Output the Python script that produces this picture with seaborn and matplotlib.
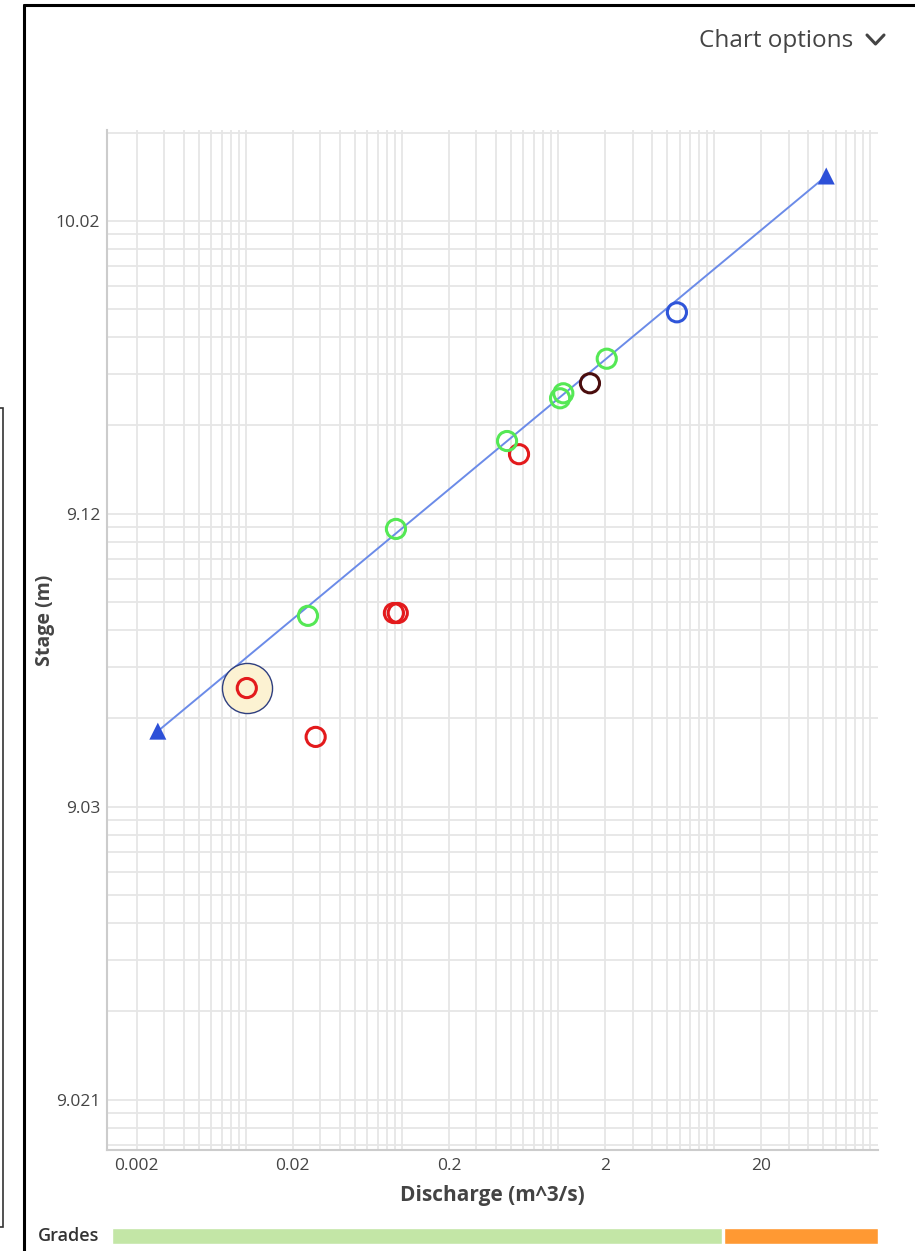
import matplotlib
matplotlib.use("Agg")
import matplotlib.pyplot as plt
import seaborn as sns
import numpy as np
import pandas as pd
from matplotlib.ticker import FixedLocator, FixedFormatter, NullFormatter
from matplotlib.lines import Line2D
from matplotlib.patches import Rectangle

# measured field visits (discharge m^3/s, stage m)
discharge = [0.01014, 0.0280, 0.0888, 0.0940, 0.562,
             0.0250, 0.0915, 0.471, 1.03, 1.08, 2.05,
             1.60, 5.77]
stage = [9.0454, 9.0373, 9.0658, 9.0658, 9.1796,
         9.0648, 9.1087, 9.1970, 9.2677, 9.2776, 9.3580,
         9.2987, 9.5068]
status = ["Excluded", "Excluded", "Excluded", "Excluded", "Excluded",
          "Included", "Included", "Included", "Included", "Included", "Included",
          "Previous", "Latest"]

# selected measurement (highlighted)
selected_q = [0.01014]
selected_h = [9.0454]

# rating curve end points
curve_q = [0.00273, 52.2]
curve_h = [9.0381, 10.441]

# stage offset used by the log stage axis
stage_offset = 9.02
x_major = [0.002, 0.02, 0.2, 2, 20]
x_labels = ["0.002", "0.02", "0.2", "2", "20"]
y_major = [9.021, 9.03, 9.12, 10.02]
y_labels = ["9.021", "9.03", "9.12", "10.02"]

# grades strip (fraction of axis width)
grade_start = [0.0065, 0.8003]
grade_width = [0.7912, 0.1997]
grade_color = ["#c3e6a6", "#ff9933"]

palette = {"Excluded": "#e31a1c", "Included": "#55e855",
           "Previous": "#4a0d0d", "Latest": "#2f55d9"}

sns.set_theme(style="white")
plt.rcParams['font.family'] = ['Open Sans', 'DejaVu Sans']

W, H = 915, 1251
fig = plt.figure(figsize=(W / 100, H / 100), dpi=100)

def px_rect(x0, y0, x1, y1):
    return [x0 / W, 1 - y1 / H, (x1 - x0) / W, (y1 - y0) / H]

ax = fig.add_axes(px_rect(107, 130, 878, 1150))

ax.set_xscale("log")
ax.set_yscale("functionlog", functions=(lambda y: np.asarray(y) - stage_offset,
                                        lambda y: np.asarray(y) + stage_offset))

# rating curve
df_curve = pd.DataFrame({"q": curve_q, "h": curve_h})
sns.lineplot(data=df_curve, x="q", y="h", color="#6b8be8", lw=1.4, ax=ax, zorder=3)
sns.scatterplot(data=df_curve, x="q", y="h", marker="^", s=150, color="#2d50d8",
                edgecolor="none", ax=ax, zorder=4)

# selected point halo
ax.scatter(selected_q, selected_h, s=1300, facecolor="#fcf2d2", edgecolor="#2f3f7f",
           lw=1.0, zorder=4)

# measurements as hollow circles
df = pd.DataFrame({"q": discharge, "h": stage, "status": status})
sns.scatterplot(data=df, x="q", y="h", hue="status", palette=palette, s=190,
                ax=ax, legend=False, zorder=5)
coll = ax.collections[-1]
fc = coll.get_facecolors()
coll.set_edgecolors(fc)
coll.set_facecolor("none")
coll.set_linewidth(2.2)

ax.set_xlim(0.00129, 112)
ax.set_ylim(stage_offset + 0.000673, stage_offset + 2.04)

# ticks
x_minor = [k * 10.0 ** d for d in range(-3, 3) for k in range(1, 10)]
x_minor = [v for v in x_minor if not any(abs(v / m - 1) < 1e-6 for m in x_major)]
y_minor = [stage_offset + k * 10.0 ** d for d in range(-4, 1) for k in range(1, 10)]
ax.xaxis.set_major_locator(FixedLocator(x_major))
ax.xaxis.set_major_formatter(FixedFormatter(x_labels))
ax.xaxis.set_minor_locator(FixedLocator(x_minor))
ax.xaxis.set_minor_formatter(NullFormatter())
ax.yaxis.set_major_locator(FixedLocator(y_major))
ax.yaxis.set_major_formatter(FixedFormatter(y_labels))
ax.yaxis.set_minor_locator(FixedLocator(y_minor))
ax.yaxis.set_minor_formatter(NullFormatter())
ax.tick_params(which="both", length=0, labelsize=12.5, labelcolor="#444444")
ax.tick_params(axis="y", pad=5)
ax.tick_params(axis="x", pad=6)
ax.grid(True, which="both", color="#e6e6e6", lw=1.3)
ax.set_axisbelow(True)

for side in ["top", "right"]:
    ax.spines[side].set_visible(False)
for side in ["left", "bottom"]:
    ax.spines[side].set_color("#cccccc")
    ax.spines[side].set_linewidth(1.5)

ax.set_xlabel("Discharge (m^3/s)", fontsize=15, fontweight="bold", color="#444444", labelpad=8)
ax.set_ylabel("Stage (m)", fontsize=14, fontweight="bold", color="#444444")
ax.yaxis.set_label_coords((55 - 107) / 771, (1150 - 620) / 1020)

# grades strip
gax = fig.add_axes(px_rect(107, 1228, 878, 1244))
gax.barh([0, 0], grade_width, left=grade_start, color=grade_color, height=1.0)
gax.set_xlim(0, 1)
gax.set_ylim(-0.5, 0.5)
gax.axis("off")
fig.text(38 / W, 1 - 1236 / H, "Grades", fontsize=13, fontweight="semibold",
         color="#333333", va="center", ha="left")

# header
fig.text(853 / W, 1 - 41 / H, "Chart options", fontsize=17.5, color="#444444",
         ha="right", va="center")
fig.add_artist(Line2D([867 / W, 875.5 / W, 884 / W],
                      [1 - 35 / H, 1 - 44 / H, 1 - 35 / H],
                      color="#444444", lw=2.2, solid_capstyle="round",
                      solid_joinstyle="round"))

# panel frame
fig.add_artist(Line2D([23.5 / W, 23.5 / W], [0, 1 - 5 / H], color="black", lw=2.2))
fig.add_artist(Line2D([23.5 / W, 1], [1 - 5 / H, 1 - 5 / H], color="black", lw=2.2))
fig.add_artist(Rectangle((-2 / W, 1 - 1227 / H), 5 / W, 819 / H,
                         transform=fig.transFigure, facecolor="white",
                         edgecolor="#333333", lw=1.2))

fig.savefig("out.png", dpi=100)
